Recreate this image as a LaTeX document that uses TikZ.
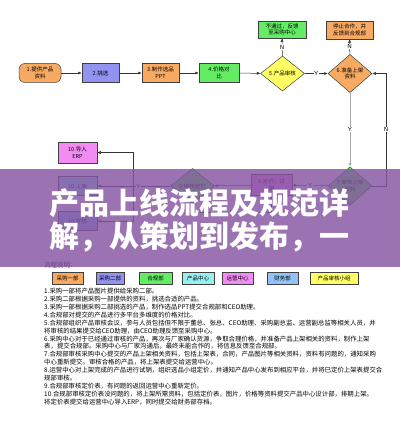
\documentclass[tikz,border=0pt]{standalone}
\usepackage{fontspec}
\newfontfamily\cjk{Noto Sans CJK SC}
\usetikzlibrary{shapes.geometric,arrows.meta}

\definecolor{caigouA}{RGB}{248,170,98}
\definecolor{caigouB}{RGB}{146,146,240}
\definecolor{hegui}{RGB}{100,236,100}
\definecolor{chanpin}{RGB}{150,240,240}
\definecolor{yunying}{RGB}{242,140,242}
\definecolor{caiwu}{RGB}{146,194,248}
\definecolor{shenhe}{RGB}{255,255,100}
\definecolor{banner}{RGB}{134,84,162}

\tikzset{
  box/.style={draw=black!75, line width=0.5pt, minimum width=#1, minimum height=19pt,
    inner sep=1pt, align=center, font=\cjk\fontsize{5.5}{6.6}\selectfont},
  box/.default=38pt,
  dia/.style={draw=black!75, line width=0.5pt, shape=diamond, minimum width=44pt,
    minimum height=35pt, inner sep=0pt, align=center, font=\cjk\fontsize{5.5}{6.6}\selectfont},
  legendbox/.style={draw=black!75, line width=0.5pt, minimum width=#1, minimum height=12pt,
    inner sep=1pt, font=\cjk\fontsize{5.5}{6.6}\selectfont},
  arr/.style={-{Latex[length=3.5pt,width=3pt]}, line width=0.5pt, draw=black!80},
  yn/.style={fill=white, inner sep=0.6pt, font=\fontsize{6}{6}\selectfont\sffamily},
}

\begin{document}
\begin{tikzpicture}[x=1pt,y=-1pt]
\useasboundingbox (0,0) rectangle (400,438);
\fill[white] (0,0) rectangle (400,438);

% Drawing boxes of the first row
\node[box=42pt, fill=caigouA, rounded corners=6pt] (n1) at (40,73) {1.提供产品\\资料};
\node[box=37pt, fill=caigouB] (n2) at (100.5,73) {2.挑选};
\node[box=37pt, fill=caigouA] (n3) at (160.5,73) {3.制作选品\\PPT};
\node[box=40pt, fill=hegui] (n4) at (219,73) {4.价格对\\比};
\node[dia, fill=shenhe] (n5) at (282.5,73.5) {5.产品审核};
\node[dia, fill=caigouA] (n6) at (350,73.5) {6.准备上架\\资料};

% Drawing boxes above the diamonds
\node[box=48pt, minimum height=17pt, fill=hegui] (n5no) at (282,29.5) {不通过，反馈\\至采购中心};
\node[box=47pt, minimum height=18pt, fill=caigouA] (n6no) at (349.5,30) {停止合作，并\\反馈到合规部};

% Drawing boxes of the second row
\node[dia, fill=hegui] (n7) at (350,186) {7.审核上架\\资料};
\node[box=41pt, minimum height=21pt, fill=yunying] (n8) at (271.5,185) {8.定价、试\\销};
\node[dia, fill=hegui] (n9) at (192.5,186) {9.审核定价};
\node[box=39pt, minimum height=21pt, fill=yunying] (n10a) at (77.5,152.5) {10.导入\\ERP};
\node[box=39pt, fill=chanpin] (n10b) at (77.5,186) {10.上架};
\node[box=39pt, fill=caiwu] (n10c) at (77.5,221) {10.存档};

% Drawing helper points
\coordinate (jr) at (386,186);
\coordinate (jl) at (133,186);
\coordinate (jb) at (192.5,212);

% Drawing connectors of the first row
\draw[arr] (n1) -- (n2);
\draw[arr] (n2) -- (n3);
\draw[arr] (n3) -- (n4);
\draw[arr] (n4) -- (n5);
\draw[arr] (n5) -- node[yn] {Y} (n6);
\draw[arr] (n5) -- node[yn] {N} (n5no);
\draw[arr] (n6) -- node[yn] {N} (n6no);
\draw[arr, draw=black!35] (n6) -- node[yn] {Y} (n7);
\draw[arr] (n7.east) -- (jr) -- node[yn] {N} (jr |- n6.east) -- (n6.east);

% Drawing connectors of the second row
\draw[arr] (n7) -- node[yn] {Y} (n8);
\draw[arr] (n8) -- (n9);
\draw[arr] (n9.south) -- (jb) -- node[yn] {N} (jb -| n8.south) -- (n8.south);
\draw[line width=0.5pt, draw=black!80] (n9.west) -- node[yn, pos=0.85] {Y} (jl);
\draw[arr] (jl) -- (n10b);
\draw[arr] (jl) -- (jl |- n10a) -- (n10a);
\draw[arr] (jl) -- (jl |- n10c) -- (n10c);

% Drawing the legend
\node[anchor=west, inner sep=0pt, font=\cjk\fontsize{6.5}{7}\selectfont] (legtitle) at (44,265) {流程说明：};
\node[legendbox=31pt, fill=caigouA] (leg1) at (67.5,278) {采购一部};
\node[legendbox=28pt, fill=caigouB] (leg2) at (110,278) {采购二部};
\node[legendbox=33pt, fill=hegui] (leg3) at (155.5,278) {合规部};
\node[legendbox=32pt, fill=chanpin] (leg4) at (198,278) {产品中心};
\node[legendbox=31pt, fill=yunying] (leg5) at (237.5,278) {运营中心};
\node[legendbox=31pt, fill=caiwu] (leg6) at (282.5,278) {财务部};
\node[legendbox=48pt, fill=shenhe] (leg7) at (334,278) {产品审核小组};

% Drawing the notes
\node[anchor=north west, inner sep=0pt, align=left, font=\cjk\fontsize{6.4}{7.9}\selectfont] (notes) at (44,288) {%
1.采购一部将产品图片提供给采购二部。\\
2.采购二部根据采购一部提供的资料，挑选合适的产品。\\
3.采购一部根据采购二部挑选的产品，制作选品PPT提交合规部和CEO助理。\\
4.合规部对提交的产品进行多平台多维度的价格对比。\\
5.合规部组织产品审核会议，参与人员包括但不限于董总、张总、CEO助理、采购副总监、运营副总监等相关人员，并\\
将审核的结果提交给CEO助理，由CEO助理反馈至采购中心。\\
6.采购中心对于已经通过审核的产品，再次与厂家确认货源，争取合理价格，并准备产品上架相关的资料，制作上架\\
表，提交合规部。采购中心与厂家沟通后，最终未能合作的，将信息反馈至合规部。\\
7.合规部审核采购中心提交的产品上架相关资料，包括上架表，合同，产品图片等相关资料，资料有问题的，通知采购\\
中心重新提交。审核合格的产品，将上架表提交给运营中心。\\
8.运营中心对上架完成的产品进行试销，组织选品小组定价，并通知产品中心发布到相应平台，并将已定价上架表提交合\\
规部审核。\\
9.合规部审核定价表，有问题的返回运营中心重新定价。\\
10.合规部审核定价表没问题的，将上架所需资料，包括定价表，图片，价格等资料提交产品中心设计部，排期上架。\\
将定价表提交给运营中心导入ERP，同时提交给财务部存档。};

% Drawing the banner on top
\fill[banner, opacity=0.82] (0,169) rectangle (400,267);
\node[anchor=west, inner sep=0pt, text=white, font=\cjk\bfseries\fontsize{30}{30}\selectfont] (title1) at (49,203) {产品上线流程及规范详};
\node[anchor=west, inner sep=0pt, text=white, font=\cjk\bfseries\fontsize{30}{30}\selectfont] (title2) at (49,237) {解，从策划到发布，一};
\end{tikzpicture}
\end{document}
